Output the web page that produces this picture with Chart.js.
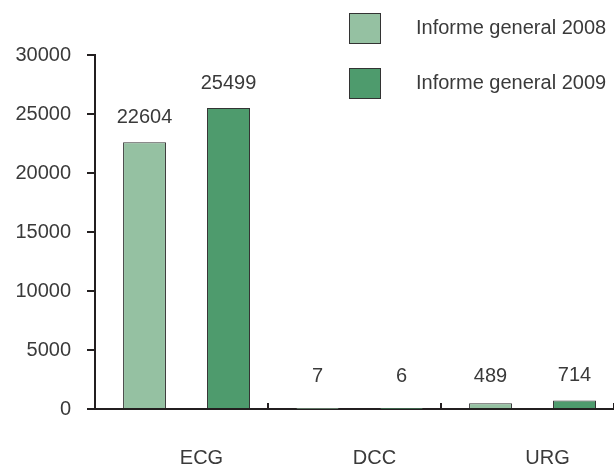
<!DOCTYPE html>
<html>
<head>
<meta charset="utf-8">
<script src="https://cdn.jsdelivr.net/npm/chart.js@4/dist/chart.umd.min.js"></script>
<style>
html,body{margin:0;padding:0;background:#fff;}
#wrap{width:614px;height:467px;position:relative;}
</style>
</head>
<body>
<div id="wrap"><canvas id="c" width="614" height="467"></canvas></div>
<script>
const categories = ['ECG', 'DCC', 'URG'];
const seriesNames = ['Informe general 2008', 'Informe general 2009'];
const values2008 = [22604, 7, 489];
const values2009 = [25499, 6, 714];
const yTicks = [0, 5000, 10000, 15000, 20000, 25000, 30000];

const FONT = "'Liberation Sans', Arial, sans-serif";
const FSIZE = 20;
const TEXT = '#3a3a3a';
const AXIS = '#231f20';

const labelPlugin = {
  id: 'valueLabels',
  afterDatasetsDraw(chart) {
    const ctx = chart.ctx;
    ctx.save();
    ctx.font = FSIZE + 'px ' + FONT;
    ctx.fillStyle = TEXT;
    ctx.textAlign = 'center';
    ctx.textBaseline = 'middle';
    chart.data.datasets.forEach((ds, di) => {
      const meta = chart.getDatasetMeta(di);
      meta.data.forEach((el, i) => {
        const y = Math.min(el.y, chart.chartArea.bottom - 8) - 25;
        ctx.fillText(String(ds.data[i]), el.x, y);
      });
    });
    ctx.restore();
  }
};

const legendPlugin = {
  id: 'customLegend',
  afterDraw(chart) {
    const ctx = chart.ctx;
    ctx.save();
    ctx.font = FSIZE + 'px ' + FONT;
    ctx.textBaseline = 'middle';
    ctx.textAlign = 'left';
    chart.data.datasets.forEach((ds, i) => {
      const x = 349, y = 13 + i * 55, w = 32, h = 31;
      ctx.fillStyle = ds.backgroundColor;
      ctx.fillRect(x, y, w, h);
      ctx.strokeStyle = '#333333';
      ctx.lineWidth = 1;
      ctx.strokeRect(x + 0.5, y + 0.5, w - 1, h - 1);
      ctx.fillStyle = TEXT;
      ctx.fillText(ds.label, 416, y + h / 2);
    });
    ctx.restore();
  }
};

new Chart(document.getElementById('c'), {
  type: 'bar',
  data: {
    labels: categories,
    datasets: [
      { label: seriesNames[0], data: values2008, backgroundColor: '#95c1a2', borderColor: '#333333', borderWidth: 1,
        categoryPercentage: 0.855, barPercentage: 0.58 },
      { label: seriesNames[1], data: values2009, backgroundColor: '#4e9b6d', borderColor: '#333333', borderWidth: 1,
        categoryPercentage: 1.087, barPercentage: 0.457 }
    ]
  },
  options: {
    responsive: false,
    animation: false,
    layout: { padding: { top: 55, right: 0, left: 0, bottom: 0 } },
    plugins: { legend: { display: false }, tooltip: { enabled: false } },
    scales: {
      x: {
        grid: { display: true, drawOnChartArea: false, offset: true, tickLength: -6, color: AXIS, lineWidth: 2 },
        border: { display: true, color: AXIS, width: 2 },
        ticks: { font: { size: FSIZE, family: FONT }, color: TEXT, padding: 43, labelOffset: 20 },
        afterFit(s) { s.height = 58; }
      },
      y: {
        min: 0, max: 30000,
        afterBuildTicks(s) { s.ticks = yTicks.map(v => ({ value: v })); },
        grid: { display: true, drawOnChartArea: false, tickLength: 8, color: AXIS, lineWidth: 2 },
        border: { display: true, color: AXIS, width: 2 },
        ticks: { font: { size: FSIZE, family: FONT }, color: TEXT, padding: 16, callback: v => String(v) },
        afterFit(s) { s.width = 95; }
      }
    }
  },
  plugins: [labelPlugin, legendPlugin]
});
</script>
</body>
</html>
